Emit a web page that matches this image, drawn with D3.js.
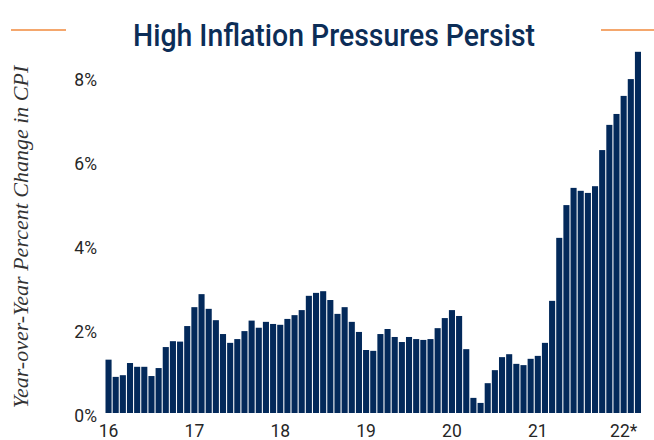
<!DOCTYPE html>
<html>
<head>
<meta charset="utf-8">
<script src="https://cdn.jsdelivr.net/npm/d3@7"></script>
<style>
  body { margin: 0; background: #fff; }
</style>
</head>
<body>
<svg id="Graph"></svg>
<script>
const w = 654;
const h = 440;

// data
const years = ["16", "17", "18", "19", "20", "21", "22"];
const yearLabels = ["16", "17", "18", "19", "20", "21", "22*"];
const cpi2016 = [1.27, 0.86, 0.90, 1.19, 1.10, 1.10, 0.88, 1.07, 1.57, 1.71, 1.70, 2.07];
const cpi2017 = [2.52, 2.83, 2.48, 2.21, 1.88, 1.67, 1.76, 1.95, 2.20, 2.03, 2.17, 2.12];
const cpi2018 = [2.10, 2.24, 2.33, 2.45, 2.79, 2.86, 2.90, 2.69, 2.36, 2.52, 2.17, 1.93];
const cpi2019 = [1.50, 1.48, 1.88, 2.00, 1.81, 1.69, 1.81, 1.76, 1.74, 1.76, 2.02, 2.26];
const cpi2020 = [2.45, 2.31, 1.52, 0.36, 0.24, 0.71, 1.02, 1.33, 1.40, 1.17, 1.14, 1.29];
const cpi2021 = [1.36, 1.67, 2.67, 4.17, 4.95, 5.36, 5.29, 5.24, 5.40, 6.26, 6.86, 7.12];
const cpi2022 = [7.55, 7.95, 8.60];
const yTicks = [0, 2, 4, 6, 8];

const allYears = [cpi2016, cpi2017, cpi2018, cpi2019, cpi2020, cpi2021, cpi2022];
const dataset = [];
allYears.forEach(function (vals, yi) {
    vals.forEach(function (v, m) {
        dataset.push({ key: years[yi] + "-" + (m + 1), year: years[yi], month: m, value: v });
    });
});

const navy = "#03295a";

let svg = d3.select("#Graph")
    .attr("width", w)
    .attr("height", h);

// scales
const xScale = d3.scaleBand()
    .domain(dataset.map(function (d) { return d.key; }))
    .range([105.5, 641])
    .paddingInner(0.15)
    .paddingOuter(0);
const yScale = d3.scaleLinear()
    .domain([0, 9])
    .range([413, 413 - 9 * 42]);

// bars
svg.selectAll("rect.bar")
    .data(dataset)
    .enter()
    .append("rect")
    .attr("class", "bar")
    .attr("x", function (d) { return xScale(d.key); })
    .attr("y", function (d) { return yScale(d.value); })
    .attr("width", xScale.bandwidth())
    .attr("height", function (d) { return yScale(0) - yScale(d.value); })
    .attr("fill", navy);

// y axis labels
const yAxis = d3.axisLeft(yScale)
    .tickValues(yTicks)
    .tickSize(0)
    .tickPadding(0)
    .tickFormat(function (d) { return d + "%"; });
const gy = svg.append("g")
    .attr("transform", "translate(97,3)")
    .call(yAxis);
gy.select(".domain").remove();
gy.selectAll("text")
    .attr("font-family", "Roboto, 'Open Sans', sans-serif")
    .attr("font-size", "17.5px")
    .attr("fill", "#262626");

// x axis labels (January of each year)
const xAxis = d3.axisBottom(xScale)
    .tickValues(years.map(function (y) { return y + "-1"; }))
    .tickSize(0)
    .tickPadding(0)
    .tickFormat(function (d) { return yearLabels[years.indexOf(d.split("-")[0])]; });
const gx = svg.append("g")
    .attr("transform", "translate(0,425)")
    .call(xAxis);
gx.select(".domain").remove();
gx.selectAll("text")
    .attr("font-family", "Roboto, 'Open Sans', sans-serif")
    .attr("font-size", "17.5px")
    .attr("fill", "#262626");

// y axis title
svg.append("text")
    .attr("transform", "translate(28,237) rotate(-90)")
    .attr("text-anchor", "middle")
    .attr("font-family", "'Liberation Serif', 'DejaVu Serif', serif")
    .attr("font-style", "italic")
    .attr("font-size", "22px")
    .attr("fill", "#333")
    .text("Year-over-Year Percent Change in CPI");

// title
svg.append("text")
    .attr("x", 334)
    .attr("y", 46)
    .attr("text-anchor", "middle")
    .attr("font-family", "Roboto, sans-serif")
    .attr("font-weight", "500")
    .attr("font-size", "31px")
    .attr("textLength", 402)
    .attr("lengthAdjust", "spacingAndGlyphs")
    .attr("fill", "#0c2d57")
    .text("High Inflation Pressures Persist");

// orange rules
svg.append("line")
    .attr("x1", 11).attr("x2", 66).attr("y1", 30).attr("y2", 30)
    .attr("stroke", "#f08a3c").attr("stroke-width", 1.5);
svg.append("line")
    .attr("x1", 601).attr("x2", 654).attr("y1", 30).attr("y2", 30)
    .attr("stroke", "#f08a3c").attr("stroke-width", 1.5);
</script>
</body>
</html>
